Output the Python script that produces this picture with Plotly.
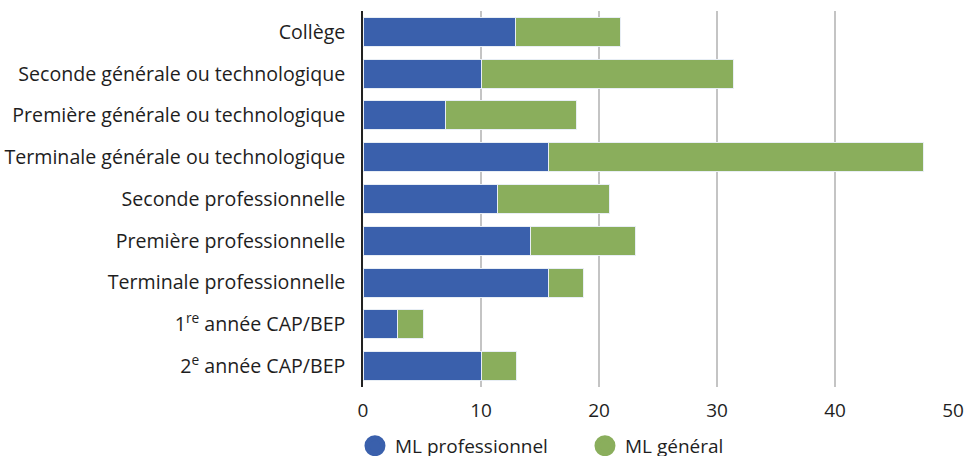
import plotly.graph_objects as go

categories = [
    "Collège",
    "Seconde générale ou technologique",
    "Première générale ou technologique",
    "Terminale générale ou technologique",
    "Seconde professionnelle",
    "Première professionnelle",
    "Terminale professionnelle",
    "1<sup>re</sup> année CAP/BEP",
    "2<sup>e</sup> année CAP/BEP",
]
ml_pro = [12.9, 10.0, 7.0, 15.7, 11.4, 14.2, 15.7, 2.9, 10.0]
ml_gen = [8.9, 21.4, 11.1, 31.8, 9.5, 8.9, 3.0, 2.2, 3.0]
series_names = ["ML professionnel", "ML général"]
colors = ["#3A60AC", "#8AAE5C"]
x_ticks = [0, 10, 20, 30, 40, 50]

FONT = "Open Sans"
TXT = "#1e1e1e"

fig = go.Figure()
for name, vals, col in zip(series_names, [ml_pro, ml_gen], colors):
    fig.add_trace(go.Bar(
        y=categories, x=vals, orientation="h", name=name,
        marker=dict(color=col, line=dict(color="#e8eef5", width=1)),
        showlegend=False,
    ))
for name, col in zip(series_names, colors):
    fig.add_trace(go.Scatter(
        x=[None], y=[None], mode="markers", name=name,
        marker=dict(color=col, size=20, symbol="circle", line=dict(color=col, width=5)),
    ))

fig.update_layout(
    barmode="stack",
    bargap=0.307,
    width=967, height=456,
    margin=dict(l=363, r=14, t=11, b=69, autoexpand=False),
    paper_bgcolor="white", plot_bgcolor="white",
    font=dict(family=FONT, size=19.6, color=TXT),
    legend=dict(orientation="h", traceorder="normal", x=-0.0136, xanchor="left",
                y=-0.106, yanchor="top",
                font=dict(size=19, color=TXT), itemwidth=30, tracegroupgap=0,
                entrywidth=185),
)
fig.update_xaxes(
    range=[0, 50], tickvals=x_ticks, showgrid=True, gridcolor="#c4c4c4", gridwidth=1.5,
    zeroline=False, showline=False, tickfont=dict(size=19, color=TXT), ticks="",
    ticklabelstandoff=10, automargin=False,
)
fig.update_yaxes(
    autorange="reversed", showgrid=False, showline=True, linecolor="#222222", linewidth=1.5,
    ticks="", ticklabelstandoff=12, tickfont=dict(size=19.6, color=TXT), automargin=False,
)

fig.write_html(
    "out.html",
    config={"displayModeBar": False},
    post_script="document.body.style.margin='0';document.body.style.overflow='hidden';",
)
